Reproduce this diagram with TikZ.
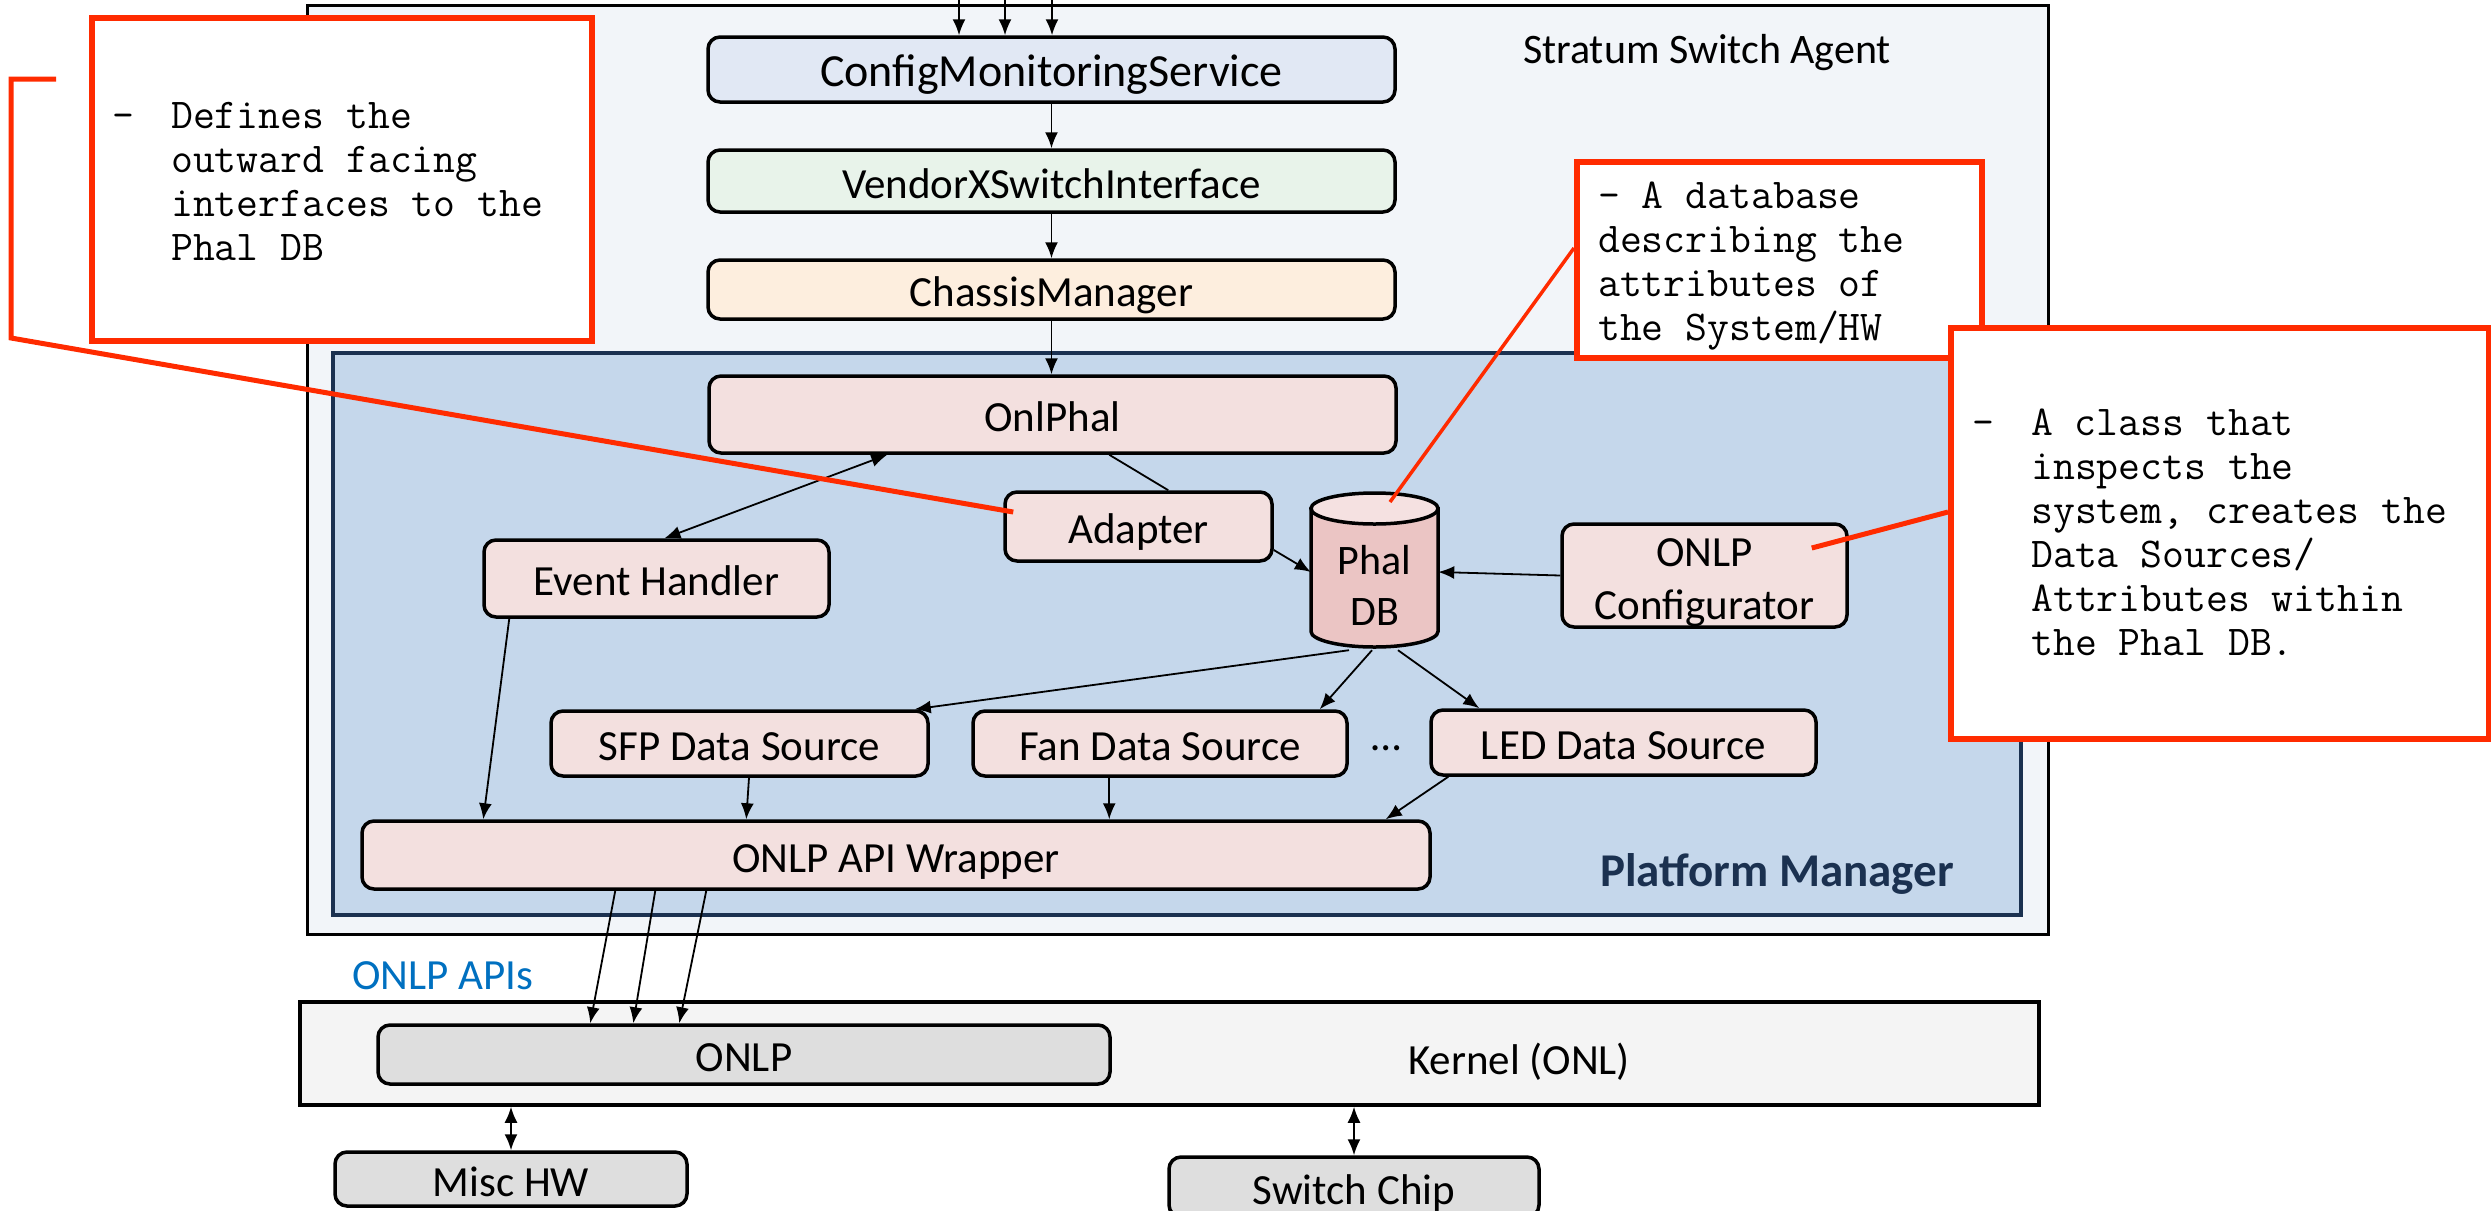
\documentclass[tikz,border=0pt]{standalone}
\usepackage{fontspec}
\setmainfont{Carlito}
\usetikzlibrary{arrows.meta,calc}
\definecolor{strfill}{HTML}{F2F5F9}
\definecolor{plfill}{HTML}{C5D7EB}
\definecolor{navy}{HTML}{1B3150}
\definecolor{cmsfill}{HTML}{E1E8F4}
\definecolor{vxifill}{HTML}{E8F3EA}
\definecolor{chmfill}{HTML}{FDEEDE}
\definecolor{pinkfill}{HTML}{F3E0DF}
\definecolor{dbbody}{HTML}{EBC5C4}
\definecolor{dbtop}{HTML}{F5E1E1}
\definecolor{grayfill}{HTML}{DEDEDE}
\definecolor{kernfill}{HTML}{F4F4F4}
\definecolor{calred}{HTML}{FF2B00}
\definecolor{apiblue}{HTML}{0070C0}
\newcommand\boxfs{\fontsize{43}{53}\selectfont}
\newcommand\monofs{\ttfamily\fontsize{42.5}{44}\selectfont}
\begin{document}
\begin{tikzpicture}[x=1pt,y=-1pt,
  box/.style={draw, line width=3.5pt, rounded corners=12pt, inner sep=0pt, font=\boxfs, text height=34pt, text depth=0pt},
  emptybox/.style={draw, line width=3.5pt, rounded corners=12pt, inner sep=0pt},
  conn/.style={line width=1.8pt, -{Latex[length=16pt,width=13pt]}},
  dconn/.style={line width=1.8pt, {Latex[length=16pt,width=13pt]}-{Latex[length=16pt,width=13pt]}},
  plainline/.style={line width=1.8pt},
  callout/.style={draw=calred, line width=6pt, fill=white, inner sep=0pt},
  redline/.style={draw=calred, line width=5pt},
  monotext/.style={inner sep=0pt, anchor=base west, font=\monofs}
]
\useasboundingbox (0,0) rectangle (2491,1210);
\clip (0,0) rectangle (2491,1210);

% containers
\node[draw, line width=3pt, fill=strfill, minimum width=1741pt, minimum height=929pt, inner sep=0pt] (stratum) at (1177.5,469.5) {};
\node[font=\fontsize{42}{50}\selectfont, inner sep=0pt] (stratumlbl) at (1707,53) {Stratum Switch Agent};
\node[draw=navy, line width=4pt, fill=plfill, minimum width=1688pt, minimum height=562pt, inner sep=0pt] (platform) at (1177,634) {};
\node[font=\fontsize{47}{56}\selectfont\bfseries, text=navy, inner sep=0pt] (platlbl) at (1777,874) {Platform Manager};

% boxes
\node[box, fill=cmsfill, minimum width=687pt, minimum height=65pt, font=\fontsize{46}{55}\selectfont] (cms) at (1051.5,69.5) {ConfigMonitoringService};
\node[box, fill=vxifill, minimum width=687pt, minimum height=62pt] (vxi) at (1051.5,181) {VendorXSwitchInterface};
\node[box, fill=chmfill, minimum width=687pt, minimum height=59pt] (chm) at (1051.5,289.5) {ChassisManager};
\node[box, fill=pinkfill, minimum width=687pt, minimum height=77pt] (onlphal) at (1052.5,414.5) {OnlPhal};
\node[box, fill=pinkfill, minimum width=267pt, minimum height=69pt] (adapter) at (1138.5,526.5) {Adapter};
\node[box, fill=pinkfill, minimum width=345pt, minimum height=77pt] (evh) at (656.5,578.5) {Event Handler};
\node[emptybox, fill=pinkfill, minimum width=285pt, minimum height=103pt] (conf) at (1704.5,575.5) {};
\node[font=\boxfs, align=center, inner sep=0pt] (conftxt) at (1704.5,583) {ONLP\\Configurator};
\node[box, fill=pinkfill, minimum width=377pt, minimum height=65pt] (sfp) at (739.5,743.5) {SFP Data Source};
\node[box, fill=pinkfill, minimum width=374pt, minimum height=65pt] (fan) at (1160,743.5) {Fan Data Source};
\node[box, fill=pinkfill, minimum width=385pt, minimum height=65pt] (led) at (1623.5,742.5) {LED Data Source};
\node[font=\boxfs, inner sep=0pt, anchor=base] (dots) at (1386,750) {\textellipsis};
\node[box, fill=pinkfill, minimum width=1068pt, minimum height=68pt] (wrapper) at (896,855) {ONLP API Wrapper};

% Phal DB cylinder
\node[minimum width=127pt, minimum height=154pt, inner sep=0pt] (phal) at (1374.5,570) {};
\coordinate (phaltop) at (1374.5,508.5);
\draw[line width=3.5pt, fill=dbbody] (1311,508.5) -- (1311,631.5)
  arc[start angle=180, end angle=360, x radius=63.5pt, y radius=15.5pt] -- (1438,508.5) -- cycle;
\draw[line width=3.5pt, fill=dbtop] (phaltop) ellipse [x radius=63.5pt, y radius=15.5pt];
\node[font=\fontsize{42}{51}\selectfont, align=center, inner sep=0pt] (phaltxt) at (1374.5,585) {Phal\\DB};

% kernel area
\node[draw, line width=3.5pt, fill=kernfill, minimum width=1739pt, minimum height=103pt, inner sep=0pt] (kernel) at (1169.5,1053.5) {};
\node[font=\boxfs, inner sep=0pt] (kernlbl) at (1519,1062) {Kernel (ONL)};
\node[box, fill=grayfill, minimum width=732pt, minimum height=59pt] (onlp) at (744,1054.5) {ONLP};
\node[box, fill=grayfill, minimum width=352pt, minimum height=54pt] (misc) at (511,1179) {Misc HW};
\node[box, fill=grayfill, minimum width=370pt, minimum height=60pt] (switch) at (1354,1187) {Switch Chip};
\node[font=\boxfs, text=apiblue, inner sep=0pt] (apis) at (443,976) {ONLP APIs};

% connectors
\coordinate (in1) at (959,-10);
\coordinate (in2) at (1005,-10);
\coordinate (in3) at (1052,-10);
\draw[conn] (in1) -- (in1 |- cms.north);
\draw[conn] (in2) -- (in2 |- cms.north);
\draw[conn] (in3) -- (in3 |- cms.north);
\draw[conn] (cms.south) -- (vxi.north);
\draw[conn] (vxi.south) -- (chm.north);
\draw[conn] (chm.south) -- (chm.south |- onlphal.north);
\draw[dconn] ($(onlphal.south west)+(180,0)$) -- ($(evh.north)+(8,0)$);
\draw[plainline] ($(onlphal.south west)+(402,0)$) -- ($(adapter.north west)+(165,0)$);
\draw[conn] ($(adapter.east)+(0,23.5)$) -- ($(phal.west)+(0,2)$);
\draw[conn] (conf.west) -- ($(phal.east)+(0,2)$);
\draw[conn] ($(phal.south)+(-25.5,3)$) -- ($(sfp.north east)+(-15,0)$);
\draw[conn] ($(phal.south)+(-2.5,3)$) -- ($(fan.north east)+(-29,0)$);
\draw[conn] ($(phal.south)+(23.5,3)$) -- ($(led.north west)+(50,0)$);
\draw[conn] ($(evh.south west)+(27,0)$) -- ($(wrapper.north west)+(123,0)$);
\draw[conn] ($(sfp.south)+(9.5,0)$) -- ($(wrapper.north west)+(386,0)$);
\draw[conn] ($(fan.south west)+(138,0)$) -- ($(wrapper.north west)+(749,0)$);
\draw[conn] ($(led.south west)+(19,0)$) -- ($(wrapper.north east)+(-46,0)$);
\draw[conn] ($(wrapper.south west)+(255,0)$) -- ($(onlp.north west)+(214,0)$);
\draw[conn] ($(wrapper.south west)+(295,0)$) -- ($(onlp.north west)+(257,0)$);
\draw[conn] ($(wrapper.south west)+(346,0)$) -- ($(onlp.north west)+(303,0)$);
\draw[dconn] (misc.north |- kernel.south) -- (misc.north);
\draw[dconn] (switch.north |- kernel.south) -- (switch.north);

% callouts
\node[callout, minimum width=500pt, minimum height=323pt] (c1) at (342,179.5) {};
\node[monotext] (c1t) at (112,128) {\begin{tabular}[t]{@{}p{59pt}@{}l@{}}
-&Defines the\\ &outward facing\\ &interfaces to the\\ &Phal DB\end{tabular}};
\node[callout, minimum width=405pt, minimum height=196pt] (c2) at (1779.5,260) {};
\node[monotext] (c2t) at (1598,208) {\begin{tabular}[t]{@{}l@{}}
- A database\\describing the\\attributes of\\the System/HW\end{tabular}};
\node[callout, minimum width=538pt, minimum height=411pt] (c3) at (2220,533.5) {};
\node[monotext] (c3t) at (1972,435) {\begin{tabular}[t]{@{}p{59pt}@{}l@{}}
-&A class that\\ &inspects the\\ &system, creates the\\ &Data Sources/\\ &Attributes within\\ &the Phal DB.\end{tabular}};

\coordinate (r1a) at (56,79);
\coordinate (r1b) at (11,79);
\coordinate (r1c) at (11,338);
\draw[redline] (r1a) -- (r1b) -- (r1c) -- ($(adapter.west)+(10,-14.5)$);
\draw[redline, line width=3.5pt] ($(c2.west)+(0,-12)$) -- ($(phaltop)+(15.5,-6.5)$);
\draw[redline] ($(c3.west)+(0,-21.5)$) -- ($(conf.east)+(-37,-27.5)$);
\end{tikzpicture}
\end{document}
